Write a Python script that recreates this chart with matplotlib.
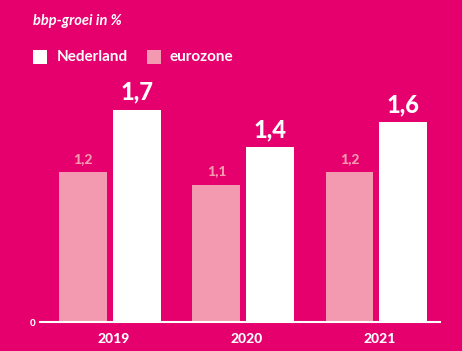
import matplotlib
matplotlib.use("Agg")
import matplotlib.pyplot as plt
from matplotlib.patches import Rectangle
import numpy as np

years = ["2019", "2020", "2021"]
eurozone = [1.2, 1.1, 1.2]
nederland = [1.7, 1.4, 1.6]
eurozone_labels = ["1,2", "1,1", "1,2"]
nederland_labels = ["1,7", "1,4", "1,6"]

BG = "#E5006D"
PINK = "#F49AB0"
WHITE = "#FFFFFF"

plt.rcParams['font.family'] = ['Lato', 'DejaVu Sans']

W, H = 462, 351
fig = plt.figure(figsize=(W/100, H/100), dpi=100)
fig.patch.set_facecolor(BG)
ax = fig.add_axes([40/W, 29/H, 400/W, 242/H])
ax.set_facecolor(BG)

x = np.arange(len(years))
bw = 0.36
off = 0.2
ax.bar(x - off, eurozone, width=bw, color=PINK, zorder=2)
ax.bar(x + off, nederland, width=bw, color=WHITE, zorder=2)

for xi, v, lab in zip(x, eurozone, eurozone_labels):
    ax.text(xi - off, v + 0.06, lab, ha='center', va='bottom', color=PINK,
            fontsize=10, fontweight='black')
for xi, v, lab in zip(x, nederland, nederland_labels):
    ax.text(xi + off, v + 0.05, lab, ha='center', va='bottom', color=WHITE,
            fontsize=17, fontweight='black')

ax.set_xlim(-0.526, 2.48)
ax.set_ylim(0, 1.94)
for s in ['top', 'right', 'left']:
    ax.spines[s].set_visible(False)
ax.spines['bottom'].set_color(WHITE)
ax.spines['bottom'].set_linewidth(1.5)
ax.spines['bottom'].set_zorder(3)
ax.set_yticks([0])
ax.set_yticklabels(["0"], color=WHITE, fontsize=7, fontweight='black')
ax.tick_params(axis='y', length=0, pad=3)
ax.set_xticks(x + 0.03)
ax.set_xticklabels(years, color=WHITE, fontsize=10, fontweight='black')
ax.tick_params(axis='x', length=0, pad=8)

fig.text(33/W, 1 - 21/H, "bbp-groei in %", color=WHITE, fontsize=10.5,
         fontweight='bold', fontstyle='italic', va='center', ha='left')

fig.patches.append(Rectangle((33/W, 1 - 64/H), 14/W, 14/H, transform=fig.transFigure,
                             facecolor=WHITE, edgecolor='none'))
fig.text(57/W, 1 - 57/H, "Nederland", color=WHITE, fontsize=11, fontweight='bold',
         va='center', ha='left')
fig.patches.append(Rectangle((147/W, 1 - 64/H), 14/W, 14/H, transform=fig.transFigure,
                             facecolor=PINK, edgecolor='none'))
fig.text(170/W, 1 - 57/H, "eurozone", color=WHITE, fontsize=11, fontweight='bold',
         va='center', ha='left')

fig.savefig("out.png", dpi=100, facecolor=BG)
